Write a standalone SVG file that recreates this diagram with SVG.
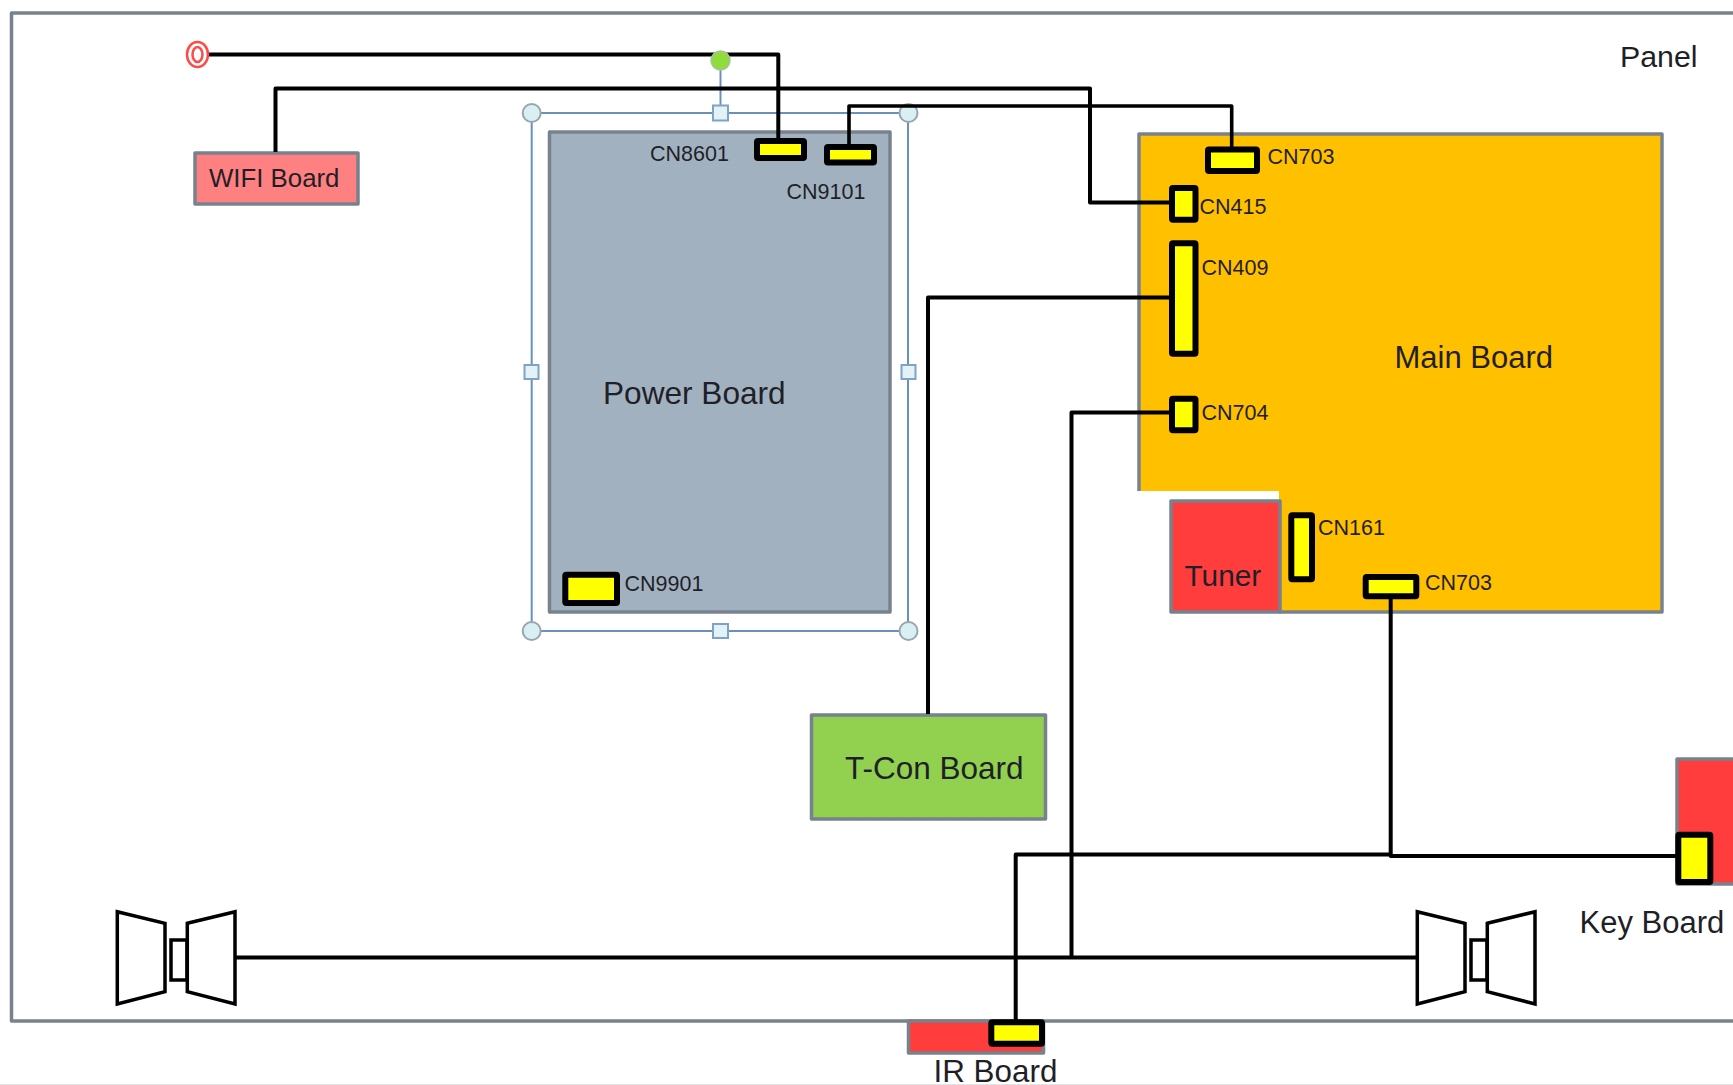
<svg xmlns="http://www.w3.org/2000/svg" xmlns:xlink="http://www.w3.org/1999/xlink" width="1733" height="1085" viewBox="0 0 1733 1085">
<style>
text{font-family:"Liberation Sans",Arial,sans-serif;fill:#1f1f28}
.big{font-size:31px}
.cn{font-size:21.5px}
.bd{stroke:#78828e;stroke-width:3.5;stroke-linejoin:round}
.c{fill:#ff0;stroke:#000;stroke-width:6;stroke-linejoin:round}
.w{fill:none;stroke:#000;stroke-width:4;stroke-linejoin:round}
.sp{fill:#fff;stroke:#000;stroke-width:3.5;stroke-linejoin:miter}
.sel{fill:none;stroke:#6a90bc;stroke-width:2}
.hc{fill:#d8eff3;stroke:#9aa6ad;stroke-width:2}
.hs{fill:#e2f2f6;stroke:#7fa3c6;stroke-width:2}
</style>
<defs>
<g id="speaker">
<polygon class="sp" points="117.300,911.700 165,923.300 165,991.700 117.300,1004"/>
<rect class="sp" x="171" y="940" width="16" height="40"/>
<polygon class="sp" points="187.300,923.300 235,911.700 235,1004 187.300,991.700"/>
</g>
</defs>
<rect width="1733" height="1085" fill="#fff"/>
<g id="panel">
<rect class="bd" x="11.500" y="13" width="1760" height="1008" fill="#fff"/>
<text x="1620" y="67" style="font-size:30.300px">Panel</text>
</g>
<g id="wifi-board">
<rect class="bd" x="195" y="153" width="163" height="51" fill="#ff8080"/>
<text x="209" y="187" style="font-size:25.800px">WIFI Board</text>
</g>
<g id="main-board">
<rect class="bd" x="1139" y="134" width="523" height="478" fill="#ffc000"/>
<rect x="1136" y="491" width="143" height="124" fill="#fff"/>
<text class="big" x="1394.500" y="368">Main Board</text>
</g>
<g id="tuner">
<rect class="bd" x="1171" y="501" width="109" height="111" fill="#ff3d3d"/>
<text x="1184.500" y="586" style="font-size:29.800px">Tuner</text>
</g>
<g id="power-board">
<rect class="bd" x="549.500" y="132" width="340.500" height="480" fill="#a2b1c0"/>
<text x="603" y="404" style="font-size:31.600px">Power Board</text>
</g>
<g id="selection">
<rect class="sel" x="531.700" y="113" width="376.300" height="518"/>
<line class="sel" x1="720.500" y1="62" x2="720.500" y2="113"/>
<circle class="hc" cx="531.700" cy="113" r="9"/>
<circle class="hc" cx="908.500" cy="113" r="9"/>
<circle class="hc" cx="531.700" cy="631" r="9"/>
<circle class="hc" cx="908.500" cy="631" r="9"/>
<rect class="hs" x="713" y="105.500" width="15" height="15"/>
<rect class="hs" x="713" y="624" width="15" height="14"/>
<rect class="hs" x="524.500" y="365" width="14" height="14"/>
<rect class="hs" x="901.500" y="365" width="14" height="14"/>
</g>
<g id="tcon-board">
<rect class="bd" x="811.500" y="715" width="234" height="104" fill="#92d050"/>
<text x="845" y="778.500" style="font-size:31.500px">T-Con Board</text>
</g>
<g id="key-board">
<rect class="bd" x="1677" y="759" width="100" height="125" fill="#ff3d3d"/>
<text class="big" x="1579.500" y="933">Key Board</text>
</g>
<g id="ir-board">
<rect class="bd" x="908.500" y="1021" width="135" height="32" fill="#ff3d3d"/>
<text x="933.500" y="1081.500" style="font-size:31.400px">IR Board</text>
</g>
<g id="connectors">
<path class="w" d="M205 54.500H778.300V140"/>
<path class="w" d="M275.500 152V88.500H1090V202.500H1172"/>
<path class="w" d="M849 147V106H1231.700V150" style="stroke-width:3.600"/>
<path class="w" d="M928 714V297.500H1172"/>
<path class="w" d="M1071.500 958V412.500H1172"/>
<path class="w" d="M1390.700 597V856H1678"/>
<path class="w" d="M1390.700 854.500H1015.700V1023"/>
<path class="w" d="M235 957.500H1418"/>
</g>
<g id="rotate-handle">
<circle cx="720.500" cy="60.500" r="9.500" fill="#8fdc3c" stroke="#a9c0a0" stroke-width="1.500"/>
</g>
<g id="cn8601"><rect class="c" x="757" y="141" width="47" height="17" rx="1"/><text class="cn" x="650" y="160.500">CN8601</text></g>
<g id="cn9101"><rect class="c" x="827" y="147" width="47" height="15.500" rx="1"/><text class="cn" x="786.500" y="199">CN9101</text></g>
<g id="cn9901"><rect class="c" x="565.300" y="574.700" width="51.700" height="28.300" rx="1"/><text class="cn" x="624.500" y="590.500">CN9901</text></g>
<g id="cn703-top"><rect class="c" x="1208" y="149.500" width="49" height="21.500" rx="1"/><text class="cn" x="1267.500" y="164">CN703</text></g>
<g id="cn415"><rect class="c" x="1172" y="188" width="23.500" height="31.700" rx="1"/><text class="cn" x="1199.500" y="214">CN415</text></g>
<g id="cn409"><rect class="c" x="1172" y="243.300" width="23.500" height="110.400" rx="1"/><text class="cn" x="1201.500" y="275">CN409</text></g>
<g id="cn704"><rect class="c" x="1172" y="398.700" width="23.500" height="31.600" rx="1"/><text class="cn" x="1201.500" y="420">CN704</text></g>
<g id="cn161"><rect class="c" x="1291.300" y="515.300" width="20.700" height="64" rx="1"/><text class="cn" x="1318" y="535">CN161</text></g>
<g id="cn703-bottom"><rect class="c" x="1365.700" y="577" width="50.600" height="19.300" rx="1"/><text class="cn" x="1425" y="590">CN703</text></g>
<g id="cn-key"><rect class="c" x="1678.300" y="834.700" width="32" height="47.300" rx="1"/></g>
<g id="cn-ir"><rect class="c" x="991.300" y="1022.300" width="50.700" height="21.400" rx="1"/></g>
<g id="wifi-antenna">
<ellipse cx="197.500" cy="54.500" rx="10.500" ry="12.500" fill="#fff" stroke="#ff4a4a" stroke-width="2.500"/>
<ellipse cx="197.500" cy="54.500" rx="5" ry="7.500" fill="#fff" stroke="#ff4a4a" stroke-width="2.500"/>
</g>
<g id="speaker-left"><use href="#speaker"/></g>
<g id="speaker-right"><use href="#speaker" x="1300"/></g>
<line x1="0" y1="1084.500" x2="1733" y2="1084.500" stroke="#e4e4e4" stroke-width="1"/>
</svg>
